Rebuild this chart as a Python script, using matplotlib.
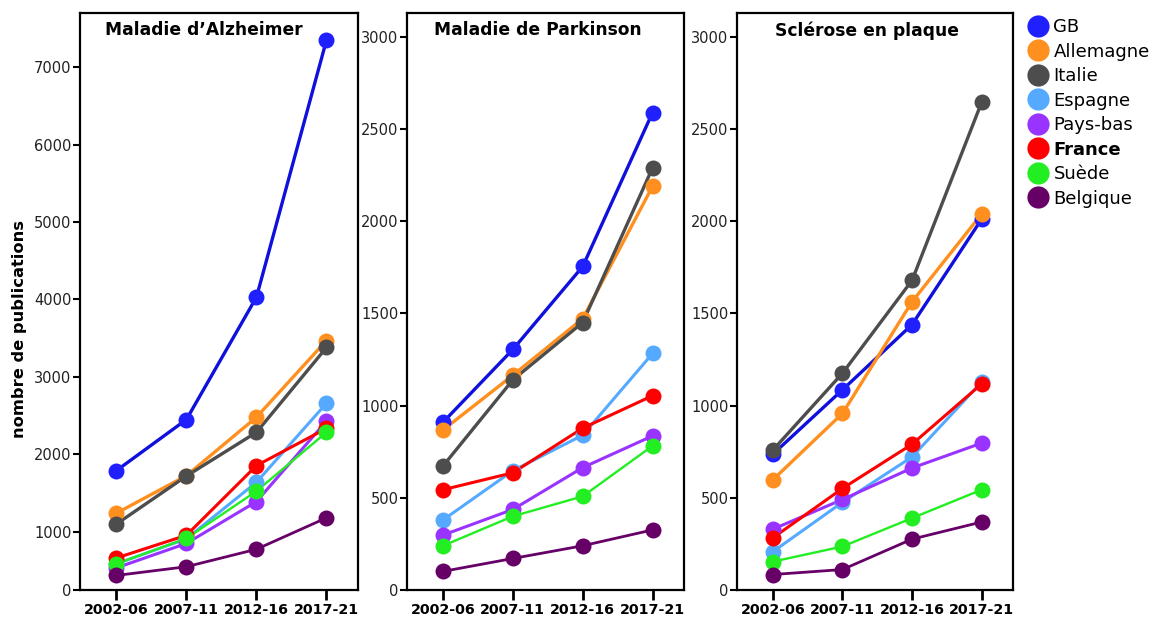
import numpy as np
import matplotlib
matplotlib.use("Agg")
from matplotlib import pyplot as plt
from matplotlib.lines import Line2D

plt.rcParams['font.family'] = ['DejaVu Sans']

periods = ["2002-06", "2007-11", "2012-16", "2017-21"]
countries = ["GB", "Allemagne", "Italie", "Espagne", "Pays-bas", "France", "Suède", "Belgique"]
marker_colors = ["#2020ff", "#ff9020", "#4d4d4d", "#55aaff", "#9933ff", "#ff0000", "#22ee22", "#660066"]
line_colors = ["#1010dd", "#ff9020", "#4d4d4d", "#55aaff", "#9933ff", "#ff0000", "#22ee22", "#660066"]

# nombre de publications par pays et par période
alzheimer = {
    "GB":        [1790, 2450, 4030, 7350],
    "Allemagne": [1240, 1725, 2480, 3470],
    "Italie":    [1100, 1720, 2285, 3380],
    "Espagne":   [450, 880, 1640, 2660],
    "Pays-bas":  [380, 800, 1390, 2430],
    "France":    [550, 940, 1855, 2335],
    "Suède":     [450, 885, 1525, 2285],
    "Belgique":  [250, 400, 700, 1180],
}
parkinson = {
    "GB":        [910, 1305, 1755, 2590],
    "Allemagne": [868, 1165, 1472, 2190],
    "Italie":    [673, 1140, 1451, 2290],
    "Espagne":   [380, 647, 840, 1283],
    "Pays-bas":  [298, 437, 664, 836],
    "France":    [544, 636, 878, 1054],
    "Suède":     [240, 400, 508, 782],
    "Belgique":  [101, 171, 240, 326],
}
sclerose = {
    "GB":        [737, 1086, 1440, 2012],
    "Allemagne": [598, 958, 1564, 2040],
    "Italie":    [759, 1176, 1680, 2646],
    "Espagne":   [208, 476, 722, 1129],
    "Pays-bas":  [330, 491, 662, 797],
    "France":    [283, 551, 791, 1118],
    "Suède":     [154, 236, 390, 544],
    "Belgique":  [84, 111, 276, 369],
}
titles = ["Maladie d\u2019Alzheimer", "Maladie de Parkinson", "Sclérose en plaque"]
title_x = [0.446, 0.472, 0.472]
panels = [alzheimer, parkinson, sclerose]
linewidths = [2.4, 2.4, 2.4, 2.2, 2.2, 2.2, 1.7, 2.0]


# axe d'Alzheimer : segment 0-1000 comprimé
def fwd(y):
    y = np.asarray(y, dtype=float)
    return np.where(y < 1000, y * 0.752, 752 + (y - 1000))


def inv(y):
    y = np.asarray(y, dtype=float)
    return np.where(y < 752, y / 0.752, 1000 + (y - 752))


fig = plt.figure(figsize=(11.55, 6.17), dpi=100)
lefts = [80 / 1155, 406.7 / 1155, 736.7 / 1155]
widths = [278 / 1155, 277.3 / 1155, 276.3 / 1155]
x = np.arange(len(periods))

for i, data in enumerate(panels):
    ax = fig.add_axes([lefts[i], 1 - 590 / 617, widths[i], 577 / 617])
    if i == 0:
        ax.set_yscale('function', functions=(fwd, inv))
        ax.set_ylim(0, 7700)
        ax.set_yticks(np.arange(0, 7001, 1000))
    else:
        ax.set_ylim(0, 3130)
        ax.set_yticks(np.arange(0, 3001, 500))
    ax.yaxis.set_minor_locator(matplotlib.ticker.NullLocator())
    ax.set_xlim(-0.52, 3.45)
    for j, c in enumerate(countries):
        ax.plot(x, data[c], color=line_colors[j], lw=linewidths[j], zorder=2 + j * 0.01)
        ax.plot(x, data[c], 'o', color=marker_colors[j], ms=11.5, mec='none', zorder=3 + j * 0.01)
    ax.set_xticks(x)
    ax.set_xticklabels(periods, fontsize=10.3, fontweight='bold')
    ax.tick_params(axis='x', length=7, width=2, pad=2)
    ax.tick_params(axis='y', length=5, width=1.5, pad=1, labelsize=10.5, labelcolor='#222222')
    for s in ax.spines.values():
        s.set_linewidth(1.6)
    ax.text(title_x[i], 0.986, titles[i], transform=ax.transAxes, ha='center', va='top',
            fontsize=12.3, fontweight='bold')
    if i == 0:
        ax.set_ylabel("nombre de publications", fontsize=11.7, fontweight='bold')
        ax.yaxis.set_label_coords(-0.19, 0.452)

handles = [Line2D([], [], marker='o', ls='none', color=marker_colors[j], ms=16, mec='none')
           for j in range(len(countries))]
leg = fig.legend(handles, countries, loc='upper left', bbox_to_anchor=(1020 / 1155, 1 - 11 / 617),
                 frameon=False, fontsize=13, handletextpad=0.25, labelspacing=0.36,
                 handlelength=1.2, borderaxespad=0)
for t in leg.get_texts():
    if t.get_text() == "France":
        t.set_fontweight('bold')

fig.savefig("out.png", dpi=100)
